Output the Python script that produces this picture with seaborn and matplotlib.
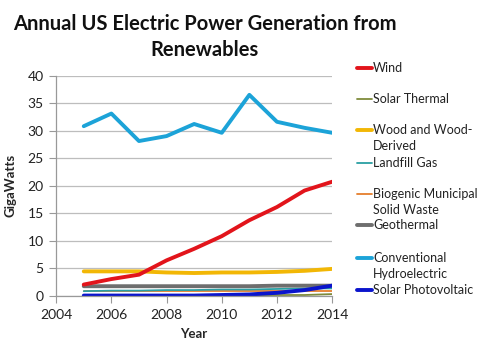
import matplotlib
matplotlib.use("Agg")
import matplotlib.pyplot as plt
import seaborn as sns
import pandas as pd
from matplotlib.lines import Line2D

years = [2005, 2006, 2007, 2008, 2009, 2010, 2011, 2012, 2013, 2014]
wind = [2.0, 3.0, 3.8, 6.4, 8.5, 10.8, 13.7, 16.1, 19.1, 20.7]
solar_thermal = [0.07, 0.06, 0.07, 0.09, 0.09, 0.09, 0.09, 0.10, 0.10, 0.27]
wood = [4.4, 4.4, 4.4, 4.2, 4.1, 4.2, 4.2, 4.3, 4.5, 4.85]
landfill_gas = [0.8, 0.9, 0.9, 1.0, 1.0, 1.1, 1.1, 1.2, 1.3, 1.3]
biogenic_msw = [0.8, 0.8, 0.8, 0.8, 0.8, 0.8, 0.8, 0.8, 0.8, 0.8]
geothermal = [1.7, 1.7, 1.7, 1.7, 1.7, 1.7, 1.7, 1.8, 1.8, 1.8]
hydro = [30.8, 33.1, 28.1, 29.0, 31.2, 29.6, 36.5, 31.6, 30.5, 29.6]
solar_pv = [0.0, 0.0, 0.0, 0.0, 0.0, 0.1, 0.2, 0.5, 1.0, 1.8]

labels = ["Wind", "Solar Thermal", "Wood and Wood-\nDerived", "Landfill Gas",
          "Biogenic Municipal\nSolid Waste", "Geothermal",
          "Conventional\nHydroelectric", "Solar Photovoltaic"]
series = [wind, solar_thermal, wood, landfill_gas, biogenic_msw, geothermal, hydro, solar_pv]
colors = ["#E2141B", "#7F8B3C", "#F2B705", "#2A9FA3", "#E57E2C", "#6E6E6E", "#1CA3D8", "#0A14CC"]
widths = [2.8, 1.3, 2.8, 1.3, 1.3, 2.8, 2.8, 2.8]

sns.set_theme(style="white")
plt.rcParams["font.family"] = ["Lato", "DejaVu Sans"]

fig = plt.figure(figsize=(4.8, 3.6), dpi=100)
ax = fig.add_axes([0.117, 0.179, 0.575, 0.611])

rows = []
for lab, vals in zip(labels, series):
    for y, v in zip(years, vals):
        rows.append({"Year": y, "GW": v, "Series": lab})
df = pd.DataFrame(rows)

order = [4, 3, 1, 5, 2, 0, 6, 7]
for i in order:
    sub = df[df["Series"] == labels[i]]
    sns.lineplot(data=sub, x="Year", y="GW", ax=ax, color=colors[i],
                 linewidth=widths[i], legend=False)

ax.set_xlim(2004, 2014)
ax.set_ylim(0, 40)
ax.set_xticks([2004, 2006, 2008, 2010, 2012, 2014])
ax.set_yticks(range(0, 41, 5))
ax.yaxis.grid(True, color="#BDBDBD", linewidth=0.9)
ax.xaxis.grid(False)
for s in ["top", "right"]:
    ax.spines[s].set_visible(False)
for s in ["left", "bottom"]:
    ax.spines[s].set_color("#999999")
    ax.spines[s].set_linewidth(0.9)
ax.tick_params(axis="both", which="major", length=5, width=0.8, color="#999999",
               direction="out", labelsize=10, labelcolor="#222222",
               bottom=True, left=True)
ax.tick_params(axis="x", pad=5)
ax.tick_params(axis="y", pad=4)
ax.set_xlabel("Year", fontsize=9.5, fontweight="bold", labelpad=5)
ax.set_ylabel("GigaWatts", fontsize=9.5, fontweight="bold", labelpad=8)

fig.text(205 / 480, 1 - 37 / 360, "Annual US Electric Power Generation from\nRenewables",
         ha="center", va="center", fontsize=14.5, fontweight="bold", linespacing=1.35,
         color="#111111")

# legend (manual layout matching the reference)
leg_y = [68, 99, 130, 163, 194, 225, 258, 290]
W, H = 480.0, 360.0
for lab, c, lw, yp in zip(labels, colors, widths, leg_y):
    yf = 1 - yp / H
    fig.add_artist(Line2D([357 / W, 372 / W], [yf, yf], transform=fig.transFigure,
                          color=c, linewidth=lw))
    fig.text(373 / W, 1 - (yp - 6) / H, lab, ha="left", va="top", fontsize=9,
             linespacing=1.45, color="#222222")

fig.savefig("out.png", dpi=100)
